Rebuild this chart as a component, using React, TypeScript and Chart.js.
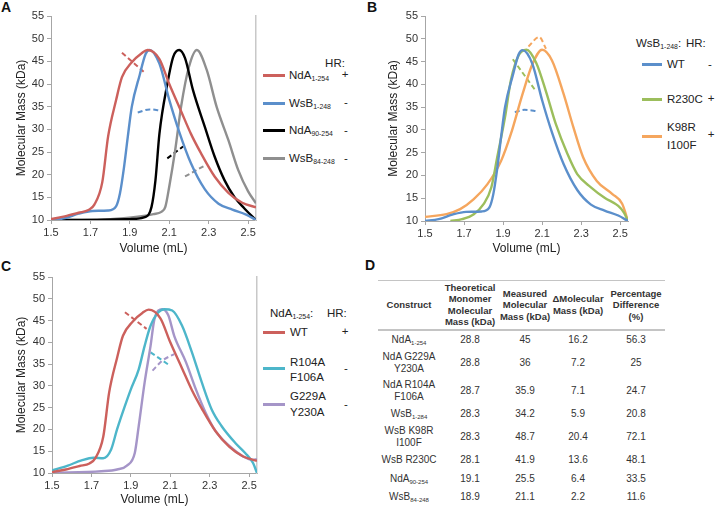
import React, { useEffect, useRef } from 'react';
import { Chart, registerables } from 'chart.js';
Chart.register(...registerables);

const FONT = '"Liberation Sans", Arial, Helvetica, sans-serif';

// ---------- axes ----------
const xTickValues = [1.5, 1.7, 1.9, 2.1, 2.3, 2.5];
const yTickValues = [10, 15, 20, 25, 30, 35, 40, 45, 50, 55];
const xMin = 1.5;
const xMax = 2.54;
const yMin = 10;
const yMax = 55;
const xTitle = 'Volume (mL)';
const yTitle = 'Molecular Mass (kDa)';

// ---------- colours ----------
const RED = '#CC605C';
const BLUE = '#5B8FCB';
const BLACK = '#000000';
const GRAY = '#8F8F8F';
const GREEN = '#9CBE5C';
const ORANGE = '#F5A65E';
const CYAN = '#4DB6CA';
const PURPLE = '#A595C8';

// ---------- traces (volume mL, molecular mass kDa) ----------
const ndaWtVol = [1.5, 1.57, 1.64, 1.69, 1.72, 1.76, 1.79, 1.83, 1.86, 1.91, 1.96, 1.99, 2.05, 2.1, 2.16, 2.21, 2.26, 2.33, 2.4, 2.47, 2.54];
const ndaWtMass = [10.2, 10.8, 11.6, 12.2, 13.4, 18.3, 28.5, 36.4, 41.5, 44.8, 46.8, 47.5, 45.5, 40, 34, 29, 24.8, 19.6, 16, 13.8, 12.8];

const wsbWtVol = [1.5, 1.57, 1.64, 1.71, 1.79, 1.83, 1.85, 1.87, 1.89, 1.91, 1.95, 1.98, 2.0, 2.05, 2.1, 2.15, 2.21, 2.28, 2.35, 2.42, 2.49, 2.54];
const wsbWtMass = [10, 10.4, 11.4, 12, 12.1, 13, 15.9, 21.5, 28.5, 35, 42, 46.6, 47.5, 44.5, 36.5, 29.5, 22.5, 16.8, 13.6, 12.3, 11.2, 10];

const nda90Vol = [1.5, 1.7, 1.9, 1.98, 2.01, 2.03, 2.05, 2.09, 2.12, 2.15, 2.18, 2.22, 2.28, 2.33, 2.38, 2.43, 2.48, 2.53, 2.54];
const nda90Mass = [10, 10, 10.2, 10.7, 12.9, 18.8, 29, 40, 46, 47.5, 45.7, 38.7, 30.6, 24, 18.8, 15.1, 12.6, 10.4, 10];

const wsb84Vol = [1.5, 1.8, 1.95, 2.02, 2.06, 2.08, 2.1, 2.13, 2.16, 2.2, 2.24, 2.29, 2.34, 2.4, 2.45, 2.5, 2.54];
const wsb84Mass = [10, 10.2, 10.8, 11.3, 11.8, 12.9, 17.4, 25.4, 35, 43.8, 47.5, 43.1, 35, 27.6, 21, 16.3, 13.7];

const r230cVol = [1.63, 1.69, 1.75, 1.8, 1.84, 1.87, 1.91, 1.94, 1.98, 2.02, 2.07, 2.12, 2.17, 2.23, 2.28, 2.35, 2.42, 2.49, 2.52, 2.54];
const r230cMass = [10, 10.4, 11.5, 13.7, 17.4, 24, 32.8, 40.9, 46.4, 47.6, 44.7, 38.4, 31.3, 24.7, 20.3, 17.4, 15.1, 13.3, 11.8, 10];

const k98rVol = [1.5, 1.61, 1.68, 1.75, 1.82, 1.89, 1.94, 2.0, 2.05, 2.1, 2.15, 2.21, 2.26, 2.31, 2.38, 2.46, 2.51, 2.54];
const k98rMass = [10.9, 11.5, 12.6, 14.8, 18.1, 23.2, 29.1, 37.9, 44.4, 47.6, 45.3, 37.9, 30.6, 24, 18.8, 15.9, 13.8, 10];

const r104aVol = [1.5, 1.58, 1.65, 1.71, 1.76, 1.8, 1.83, 1.87, 1.9, 1.94, 1.97, 2.0, 2.04, 2.07, 2.11, 2.16, 2.21, 2.26, 2.31, 2.36, 2.43, 2.48, 2.52, 2.54];
const r104aMass = [10.6, 11.7, 12.9, 13.5, 13.4, 15.4, 20, 25.4, 29.2, 33.8, 39.2, 43.8, 46.9, 47.6, 47.3, 43.8, 37.7, 30.8, 24.6, 20.8, 16.9, 14.6, 12.3, 10];

const g229aVol = [1.5, 1.75, 1.83, 1.88, 1.92, 1.94, 1.97, 2.0, 2.02, 2.06, 2.09, 2.12, 2.18, 2.23, 2.28, 2.33, 2.4, 2.47, 2.52, 2.54];
const g229aMass = [10, 10.4, 10.8, 11.7, 14.6, 20.8, 30.8, 39.2, 45.4, 47.6, 46.2, 41.5, 35.4, 29.2, 23.8, 19.6, 16.2, 13.8, 13, 13.2];

// ---------- measured-mass segments (dashed) ----------
const ndaWtMeasVolA = [1.86, 1.97];
const ndaWtMeasMassA = [46.9, 42.7];
const wsbWtMeasVol = [1.94, 2.0, 2.06];
const wsbWtMeasMass = [33.7, 34.4, 34.1];
const nda90MeasVol = [2.09, 2.17];
const nda90MeasMass = [23.6, 26.2];
const wsb84MeasVol = [2.18, 2.28];
const wsb84MeasMass = [19.6, 22];
const wsbWtMeasVolB = [1.96, 2.01, 2.08];
const wsbWtMeasMassB = [33.9, 34.4, 34.1];
const r230cMeasVol = [1.95, 2.07];
const r230cMeasMass = [45.5, 38.4];
const k98rMeasVol = [2.03, 2.085, 2.12];
const k98rMeasMass = [48.3, 50.4, 47.8];
const ndaWtMeasVolC = [1.87, 1.98];
const ndaWtMeasMassC = [46.9, 43.1];
const r104aMeasVol = [2.0, 2.1];
const r104aMeasMass = [37.7, 34.6];
const g229aMeasVol = [2.01, 2.06, 2.12];
const g229aMeasMass = [33.5, 35.8, 37.3];

// ---------- table ----------
const tableHeaders = [
  ['Construct'],
  ['Theoretical', 'Monomer', 'Molecular', 'Mass (kDa)'],
  ['Measured', 'Molecular', 'Mass (kDa)'],
  ['\u0394Molecular', 'Mass (kDa)'],
  ['Percentage', 'Difference', '(%)'],
];
const constructMain = ['NdA', 'NdA G229A', 'NdA R104A', 'WsB', 'WsB K98R', 'WsB R230C', 'NdA', 'WsB'];
const constructSecond = ['', 'Y230A', 'F106A', '', 'I100F', '', '', ''];
const constructSub = ['1-254', '', '', '1-284', '', '', '90-254', '84-248'];
const theoreticalMass = ['28.8', '28.8', '28.7', '28.3', '28.3', '28.1', '19.1', '18.9'];
const measuredMass = ['45', '36', '35.9', '34.2', '48.7', '41.9', '25.5', '21.1'];
const deltaMass = ['16.2', '7.2', '7.1', '5.9', '20.4', '13.6', '6.4', '2.2'];
const percentDiff = ['56.3', '25', '24.7', '20.8', '72.1', '48.1', '33.5', '11.6'];

// table layout (pixel positions)
const colCenters = [409, 470, 525, 578, 636];
const rowCenters = [340, 362.5, 390.5, 414, 437, 460, 478.7, 497.3];
const headerCenter = 305;
const headerLineGap = 11.5;

type Series = { vol: number[]; mass: number[]; color: string; dashed?: boolean };

type PanelProps = {
  x: number; y: number; w: number; h: number;
  padL: number; plotL: number; plotR: number; plotT: number; plotB: number;
  series: Series[]; rightBorder: boolean;
};

function Panel(p: PanelProps) {
  const ref = useRef<HTMLCanvasElement>(null);
  useEffect(() => {
    const chart = new Chart(ref.current as HTMLCanvasElement, {
      type: 'line',
      data: {
        datasets: p.series.map((s) => ({
          data: s.vol.map((v, i) => ({ x: v, y: s.mass[i] })),
          borderColor: s.color,
          backgroundColor: s.color,
          borderWidth: s.dashed ? 2 : 2.4,
          borderDash: s.dashed ? [5, 3] : [],
          pointRadius: 0,
          fill: false,
          cubicInterpolationMode: 'monotone' as const,
        })),
      },
      options: {
        responsive: false,
        animation: false,
        devicePixelRatio: 1,
        layout: { padding: { left: p.padL, top: p.plotT, right: p.w - p.plotR, bottom: 0 } },
        plugins: { legend: { display: false }, tooltip: { enabled: false } },
        scales: {
          x: {
            type: 'linear',
            min: xMin,
            max: xMax,
            afterBuildTicks: (s: any) => { s.ticks = xTickValues.map((v) => ({ value: v })); },
            afterFit: (s: any) => { s.height = p.h - p.plotB; },
            grid: { drawOnChartArea: false, drawTicks: true, tickLength: 4, color: '#a6a6a6' },
            border: { color: '#a6a6a6', width: 1 },
            ticks: {
              font: { family: FONT, size: 11 }, color: '#333', padding: 2, maxRotation: 0, autoSkip: false,
              callback: (v: any) => Number(v).toFixed(1),
            },
            title: { display: true, text: xTitle, font: { family: FONT, size: 12 }, color: '#222', padding: 0 },
          },
          y: {
            type: 'linear',
            min: yMin,
            max: yMax,
            afterBuildTicks: (s: any) => { s.ticks = yTickValues.map((v) => ({ value: v })); },
            afterFit: (s: any) => { s.width = p.plotL - p.padL; },
            grid: { drawOnChartArea: false, drawTicks: true, tickLength: 4, color: '#a6a6a6' },
            border: { color: '#a6a6a6', width: 1 },
            ticks: { font: { family: FONT, size: 11 }, color: '#333', padding: 3 },
            title: { display: true, text: yTitle, font: { family: FONT, size: 12 }, color: '#222', padding: 0 },
          },
          y2: {
            type: 'linear',
            position: 'right',
            display: p.rightBorder,
            min: yMin,
            max: yMax,
            afterFit: (s: any) => { s.width = 0; },
            grid: { drawOnChartArea: false, drawTicks: false },
            border: { color: '#c8c8c8', width: 1.5 },
            ticks: { display: false },
          },
        },
      } as any,
    });
    return () => chart.destroy();
  }, []);
  return (
    <canvas
      ref={ref}
      width={p.w}
      height={p.h}
      style={{ position: 'absolute', left: p.x, top: p.y, width: p.w, height: p.h }}
    />
  );
}

const abs = (left: number, top: number, extra: any = {}) => ({ position: 'absolute' as const, left, top, ...extra });
const subStyle = { fontSize: '0.6em', verticalAlign: '-0.35em', lineHeight: 0 };

function LegLine({ x, y, color, w = 22 }: { x: number; y: number; color: string; w?: number }) {
  return <div style={abs(x, y - 1.5, { width: w, height: 3, background: color })} />;
}

function Txt({ x, y, children, size = 11.5, center = false, bold = false, color = '#222' }: any) {
  return (
    <div
      style={abs(x, y - 8, {
        fontSize: size,
        lineHeight: '16px',
        whiteSpace: 'nowrap',
        color,
        fontWeight: bold ? 700 : 400,
        transform: center ? 'translateX(-50%)' : undefined,
      })}
    >
      {children}
    </div>
  );
}

export default function App() {
  const panelLabel = { fontWeight: 700, fontSize: 14, color: '#111' };
  return (
    <div style={{ position: 'absolute', left: 0, top: 0, width: 722, height: 507, background: '#fff', fontFamily: FONT, overflow: 'hidden' }}>
      {/* Panel A */}
      <div style={abs(1, -1, panelLabel)}>A</div>
      <Panel
        x={0} y={0} w={262} h={256} padL={14} plotL={51} plotR={256} plotT={16} plotB={220} rightBorder={true}
        series={[
          { vol: ndaWtVol, mass: ndaWtMass, color: RED },
          { vol: wsbWtVol, mass: wsbWtMass, color: BLUE },
          { vol: nda90Vol, mass: nda90Mass, color: BLACK },
          { vol: wsb84Vol, mass: wsb84Mass, color: GRAY },
          { vol: ndaWtMeasVolA, mass: ndaWtMeasMassA, color: RED, dashed: true },
          { vol: wsbWtMeasVol, mass: wsbWtMeasMass, color: BLUE, dashed: true },
          { vol: nda90MeasVol, mass: nda90MeasMass, color: BLACK, dashed: true },
          { vol: wsb84MeasVol, mass: wsb84MeasMass, color: GRAY, dashed: true },
        ]}
      />
      <Txt x={335} y={63} center>HR:</Txt>
      <LegLine x={263} y={75} color={RED} />
      <Txt x={289} y={75}>NdA<span style={subStyle}>1-254</span></Txt>
      <Txt x={345} y={74} center>+</Txt>
      <LegLine x={263} y={103} color={BLUE} />
      <Txt x={289} y={103}>WsB<span style={subStyle}>1-248</span></Txt>
      <Txt x={346} y={102} center>-</Txt>
      <LegLine x={263} y={130} color={BLACK} />
      <Txt x={289} y={130}>NdA<span style={subStyle}>90-254</span></Txt>
      <Txt x={346} y={130} center>-</Txt>
      <LegLine x={263} y={158} color={GRAY} />
      <Txt x={289} y={158}>WsB<span style={subStyle}>84-248</span></Txt>
      <Txt x={346} y={158} center>-</Txt>

      {/* Panel B */}
      <div style={abs(367, -1, panelLabel)}>B</div>
      <Panel
        x={370} y={0} w={262} h={256} padL={16} plotL={55} plotR={258} plotT={16} plotB={221} rightBorder={false}
        series={[
          { vol: wsbWtVol, mass: wsbWtMass, color: BLUE },
          { vol: r230cVol, mass: r230cMass, color: GREEN },
          { vol: k98rVol, mass: k98rMass, color: ORANGE },
          { vol: wsbWtMeasVolB, mass: wsbWtMeasMassB, color: BLUE, dashed: true },
          { vol: r230cMeasVol, mass: r230cMeasMass, color: GREEN, dashed: true },
          { vol: k98rMeasVol, mass: k98rMeasMass, color: ORANGE, dashed: true },
        ]}
      />
      <Txt x={636} y={43}>WsB<span style={subStyle}>1-248</span>:</Txt>
      <Txt x={686} y={43}>HR:</Txt>
      <LegLine x={642} y={64} color={BLUE} w={20} />
      <Txt x={667} y={64}>WT</Txt>
      <Txt x={710} y={64} center>-</Txt>
      <LegLine x={642} y={99} color={GREEN} w={20} />
      <Txt x={667} y={99}>R230C</Txt>
      <Txt x={711} y={98} center>+</Txt>
      <LegLine x={642} y={136} color={ORANGE} w={20} />
      <Txt x={667} y={127}>K98R</Txt>
      <Txt x={667} y={145}>I100F</Txt>
      <Txt x={711} y={134} center>+</Txt>

      {/* Panel C */}
      <div style={abs(1, 258, panelLabel)}>C</div>
      <Panel
        x={0} y={260} w={262} h={247} padL={14} plotL={52} plotR={257} plotT={17} plotB={213} rightBorder={true}
        series={[
          { vol: ndaWtVol, mass: ndaWtMass, color: RED },
          { vol: r104aVol, mass: r104aMass, color: CYAN },
          { vol: g229aVol, mass: g229aMass, color: PURPLE },
          { vol: ndaWtMeasVolC, mass: ndaWtMeasMassC, color: RED, dashed: true },
          { vol: r104aMeasVol, mass: r104aMeasMass, color: CYAN, dashed: true },
          { vol: g229aMeasVol, mass: g229aMeasMass, color: PURPLE, dashed: true },
        ]}
      />
      <Txt x={270} y={313}>NdA<span style={subStyle}>1-254</span>:</Txt>
      <Txt x={327} y={313}>HR:</Txt>
      <LegLine x={263} y={332} color={RED} />
      <Txt x={290} y={332}>WT</Txt>
      <Txt x={345} y={331} center>+</Txt>
      <LegLine x={263} y={368} color={CYAN} />
      <Txt x={290} y={362}>R104A</Txt>
      <Txt x={290} y={377}>F106A</Txt>
      <Txt x={346} y={368} center>-</Txt>
      <LegLine x={263} y={404} color={PURPLE} />
      <Txt x={290} y={396}>G229A</Txt>
      <Txt x={290} y={412}>Y230A</Txt>
      <Txt x={346} y={404} center>-</Txt>

      {/* Panel D: table */}
      <div style={abs(365, 257, panelLabel)}>D</div>
      <div style={abs(378, 280, { width: 287, height: 0, borderTop: '1px solid #c4c4c4' })} />
      <div style={abs(378, 329, { width: 287, height: 0, borderTop: '2px solid #c4c4c4' })} />
      {tableHeaders.map((lines, c) =>
        lines.map((l, j) => (
          <Txt
            key={'h' + c + '-' + j}
            x={colCenters[c]}
            y={headerCenter + (j - (lines.length - 1) / 2) * headerLineGap}
            size={9.5}
            bold
            center
            color="#333"
          >
            {l}
          </Txt>
        ))
      )}
      {constructMain.map((name, r) => {
        const two = !!constructSecond[r];
        const y0 = two ? rowCenters[r] - 6 : rowCenters[r];
        return (
          <React.Fragment key={'r' + r}>
            <Txt x={colCenters[0]} y={y0} size={10} center color="#333">
              {name}
              {constructSub[r] ? <span style={subStyle}>{constructSub[r]}</span> : null}
            </Txt>
            {two ? (
              <Txt x={colCenters[0]} y={rowCenters[r] + 6} size={10} center color="#333">
                {constructSecond[r]}
              </Txt>
            ) : null}
            <Txt x={colCenters[1]} y={rowCenters[r]} size={10} center color="#333">{theoreticalMass[r]}</Txt>
            <Txt x={colCenters[2]} y={rowCenters[r]} size={10} center color="#333">{measuredMass[r]}</Txt>
            <Txt x={colCenters[3]} y={rowCenters[r]} size={10} center color="#333">{deltaMass[r]}</Txt>
            <Txt x={colCenters[4]} y={rowCenters[r]} size={10} center color="#333">{percentDiff[r]}</Txt>
          </React.Fragment>
        );
      })}
    </div>
  );
}
